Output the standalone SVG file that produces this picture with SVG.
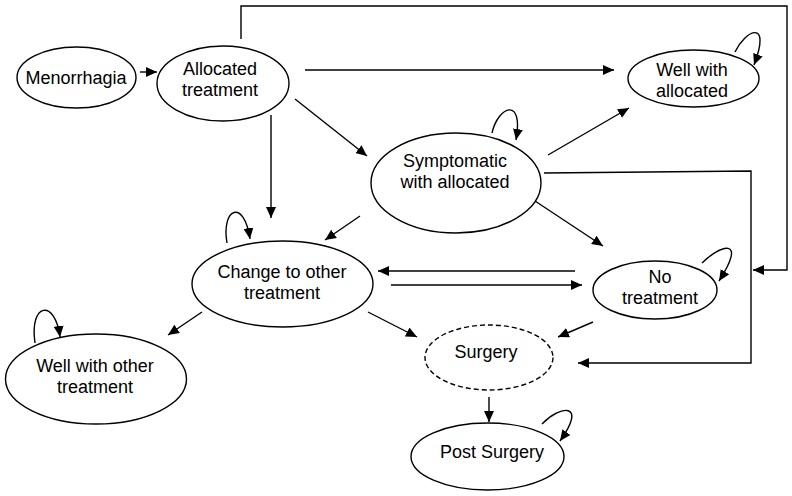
<svg xmlns="http://www.w3.org/2000/svg" width="792" height="496" viewBox="0 0 792 496">
<style>
.n{fill:#fff;stroke:#000;stroke-width:1.4}
.d{stroke-dasharray:5,3}
.t{font-family:"Liberation Sans",Arial,sans-serif;font-size:18px;fill:#000;text-anchor:middle}
.c path{fill:none;stroke:#000;stroke-width:1.4;marker-end:url(#a)}
.c path.p{marker-end:none}
</style>
<defs>
<marker id="a" markerUnits="userSpaceOnUse" markerWidth="12" markerHeight="10" refX="11" refY="5" orient="auto">
<path d="M0,0 L11,5 L0,10 z" fill="#000"/>
</marker>
</defs>
<rect width="792" height="496" fill="#fff"/>
<g class="c" id="connectors">
<path d="M140,72 L157,72"/>
<path d="M241,39 L241,6 L787,6 L787,270 L753,270"/>
<path d="M305,70 L614,70"/>
<path d="M295,99 L367,156"/>
<path d="M271,115 L271,218"/>
<path d="M548,155 L629,108"/>
<path d="M544,173 L751,171 L751,363 L578,363"/>
<path d="M532,199 L603,246"/>
<path d="M360,216 L325,240"/>
<path d="M575,271 L378,271"/>
<path d="M391,285 L582,285"/>
<path d="M202,312 L168,335"/>
<path d="M368,312 L417,337"/>
<path d="M593,322 L558,337"/>
<path d="M489,397 L489,422"/>
<path d="M735,52 C745,30 772,18 754,65"/>
<path d="M492,133 C498,106 524,96 516,140"/>
<path d="M227,243 C221,208 244,198 250,239"/>
<path d="M35,343 C29,303 55,298 60,337"/>
<path d="M702,263 C720,245 748,236 719,281"/>
<path d="M542,424 C560,405 588,402 560,441"/>
</g>
<g id="menorrhagia"><ellipse class="n" cx="76.5" cy="77.5" rx="59.5" ry="30.5"/><text class="t" x="76" y="84">Menorrhagia</text></g>
<g id="allocated"><ellipse class="n" cx="223" cy="83.5" rx="66" ry="37.5"/><text class="t" x="220" y="75">Allocated</text><text class="t" x="220" y="96">treatment</text></g>
<g id="well-allocated"><ellipse class="n" cx="693.5" cy="78.5" rx="65.5" ry="28.5"/><text class="t" x="692" y="76">Well with</text><text class="t" x="692" y="97">allocated</text></g>
<g id="symptomatic"><ellipse class="n" cx="456" cy="183" rx="85" ry="50"/><text class="t" x="455" y="167">Symptomatic</text><text class="t" x="455" y="188">with allocated</text></g>
<g id="change"><ellipse class="n" cx="282.5" cy="284" rx="90.5" ry="43"/><text class="t" x="282" y="278">Change to other</text><text class="t" x="282" y="299">treatment</text></g>
<g id="well-other"><ellipse class="n" cx="96" cy="379" rx="90.5" ry="45"/><text class="t" x="95" y="372">Well with other</text><text class="t" x="95" y="393">treatment</text></g>
<g id="no-treatment"><ellipse class="n" cx="655" cy="290" rx="62" ry="29"/><text class="t" x="660" y="283">No</text><text class="t" x="660" y="304">treatment</text></g>
<g id="surgery"><ellipse class="n d" cx="489" cy="357.5" rx="64" ry="32.5"/><text class="t" x="486" y="358">Surgery</text></g>
<g id="post-surgery"><ellipse class="n" cx="487.5" cy="456.5" rx="76.5" ry="33.5"/><text class="t" x="492" y="458">Post Surgery</text></g>
</svg>
